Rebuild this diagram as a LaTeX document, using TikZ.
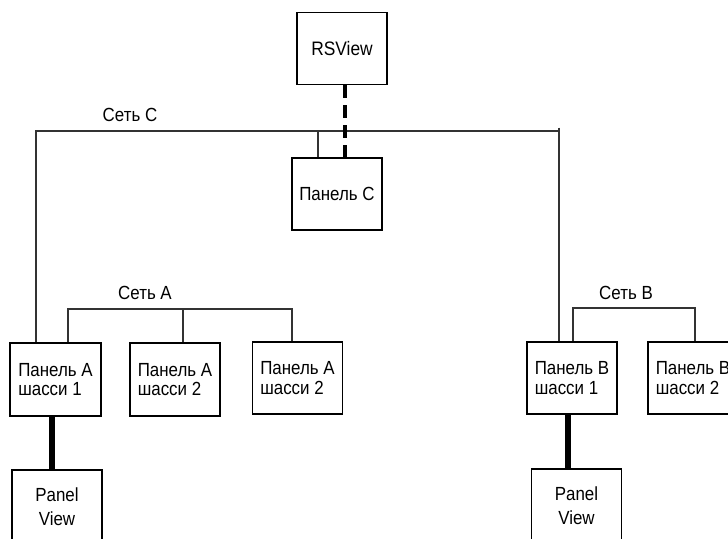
\documentclass[tikz,border=0pt]{standalone}
\usepackage{fontspec}
\setmainfont{Liberation Sans}
\newfontfamily\narrowfont[FakeStretch=0.89]{Liberation Sans}
\usetikzlibrary{positioning}
\definecolor{busgray}{HTML}{333333}

\begin{document}
\begin{tikzpicture}[x=1pt,y=-1pt,box/.style={draw, line width=1.6pt, minimum width=90pt, minimum height=72pt, align=left, font=\narrowfont\fontsize{19}{19.5}\selectfont},pvbox/.style={box, align=center, minimum height=74pt, font=\narrowfont\fontsize{19}{24}\selectfont},bus/.style={draw=busgray, line width=2.8pt},thick link/.style={line width=5.6pt},netlabel/.style={font=\narrowfont\fontsize{19}{20}\selectfont}]
\clip (0,0) rectangle (728,538);
\node[box, font=\narrowfont\fontsize{19.5}{20}\selectfont] (rsview) at (342,48.5) {RSView};
\node[box] (panC) at (337,194) {Панель С};
\node[box, minimum width=91pt, minimum height=73pt] (panA1) at (55.5,379.5) {Панель А\\шасси 1};
\node[box, minimum height=73pt] (panA2) at (175,379.5) {Панель А\\шасси 2};
\node[box] (panA3) at (297.5,378) {Панель А\\шасси 2};
\node[box] (panB1) at (572,378) {Панель В\\шасси 1};
\node[box] (panB2) at (693,378) {Панель В\\шасси 2};
\node[pvbox] (pvA) at (57,507) {Panel\\View};
\node[pvbox] (pvB) at (576.5,506) {Panel\\View};
% network labels
\node[netlabel] (netC) at (130,115) {Сеть С};
\node[netlabel] (netA) at (145,293) {Сеть А};
\node[netlabel] (netB) at (626,293) {Сеть В};
% bus corners
\coordinate (busCl) at (36,131);
\coordinate (busCr) at (559,131);
\coordinate (busCt) at (559,127.5);
\coordinate (busCp) at (318,131);
\coordinate (busAl) at (68,309);
\coordinate (busAm) at (183,309);
\coordinate (busAr) at (292,309);
\coordinate (busBl) at (573,308);
\coordinate (busBr) at (695,308);
% Сеть С
\draw[bus] (busCl |- panA1.north) -- (busCl) -- (busCr);
\draw[bus] (busCt) -- (busCt |- panB1.north);
\draw[bus] (busCp) -- (busCp |- panC.north);
\draw[line width=3.2pt, dash pattern=on 13pt off 7pt] ([xshift=3pt]rsview.south) -- ([xshift=3pt]rsview.south |- panC.north);
% Сеть А
\draw[bus] (busAl |- panA1.north) -- (busAl) -- (busAr) -- (busAr |- panA3.north);
\draw[bus] (busAm) -- (busAm |- panA2.north);
% Сеть В
\draw[bus] (busBl |- panB1.north) -- (busBl) -- (busBr) -- (busBr |- panB2.north);
% PanelView links
\draw[thick link] ([xshift=-3.5pt]panA1.south) -- ([xshift=-3.5pt]panA1.south |- pvA.north);
\draw[thick link] ([xshift=-4pt]panB1.south) -- ([xshift=-4pt]panB1.south |- pvB.north);
\end{tikzpicture}
\end{document}
